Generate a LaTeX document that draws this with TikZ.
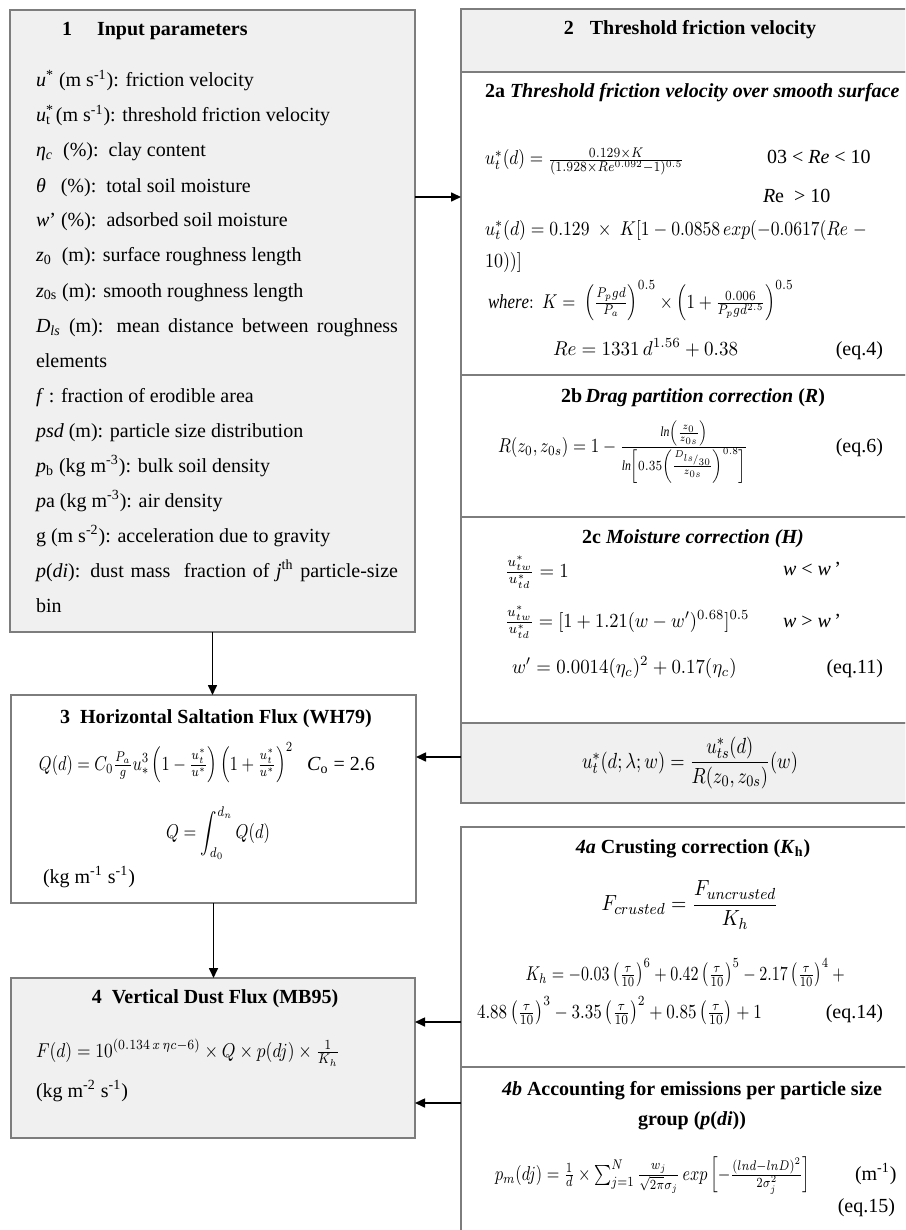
\documentclass[tikz,border=0pt]{standalone}
\usepackage{amsmath}
\usepackage{graphicx}
\usepackage{fontspec}
\setmainfont{Liberation Serif}
\usetikzlibrary{fit,arrows.meta}
\definecolor{boxgray}{RGB}{240,240,240}
\definecolor{linegray}{RGB}{125,125,125}
\newcommand{\hsqz}[2]{\scalebox{#1}[1]{#2}}
\tikzset{
  box/.style={draw=linegray, line width=0.8pt, inner sep=0pt, outer sep=0pt},
  gbox/.style={box, fill=boxgray},
  wbox/.style={box, fill=white},
  txt/.style={inner sep=0pt, outer sep=0pt, font=\fontsize{10pt}{12pt}\selectfont},
  eqn/.style={txt},
  bigeqn/.style={inner sep=0pt, outer sep=0pt, font=\fontsize{11pt}{14pt}\selectfont},
  arr/.style={draw=black, line width=0.8pt, -{Triangle[length=5pt,width=4.5pt]}},
}
\begin{document}
\begin{tikzpicture}[x=0.5pt,y=-0.5pt]
\useasboundingbox (0,0) rectangle (905,1230);
\clip (0,0) rectangle (905,1230);
\fill[white] (0,0) rectangle (905,1230);

% boxes
\node[gbox, fit={(10,10) (415,632)}] (b1) {};
\node[gbox, fit={(461,9) (915,72)}] (b2t) {};
\node[wbox, fit={(461,72) (915,375)}] (b2a) {};
\node[wbox, fit={(461,375) (915,517)}] (b2b) {};
\node[wbox, fit={(461,517) (915,723)}] (b2c) {};
\node[gbox, fit={(461,723) (915,803)}] (bc) {};
\node[wbox, fit={(461,827) (915,1067)}] (b4a) {};
\node[wbox, fit={(461,1067) (915,1240)}] (b4b) {};
\node[wbox, fit={(11,695) (416,903)}] (b3) {};
\node[gbox, fit={(11,978) (415,1138)}] (b4) {};

% box 1
\node[txt, anchor=base west] (h1) at (62,36) {\textbf{1}\hspace{12.5pt}\textbf{Input parameters}};
\foreach \txt [count=\i] in {
{\textit{u}\textsuperscript{*} (m s\textsuperscript{-1}): friction velocity},
{\textit{u}\rlap{\textsuperscript{*}}\textsubscript{t} (m s\textsuperscript{-1}): threshold friction velocity},
{\textit{η}\textsubscript{\textit{c}}\ \ (\%):\ \ clay content},
{\textit{θ}\ \ \ (\%):\ \ total soil moisture},
{\textit{w}’ (\%):\ \ adsorbed soil moisture},
{\textit{z}\textsubscript{0}\ \ (m): surface roughness length},
{\textit{z}\textsubscript{0s} (m): smooth roughness length},
{\makebox[181pt][s]{\textit{D}\textsubscript{\textit{ls}} (m): mean distance between roughness}},
{elements},
{\textit{f} : fraction of erodible area},
{\textit{psd} (m): particle size distribution},
{\textit{p}\textsubscript{b} (kg m\textsuperscript{-3}): bulk soil density},
{\textit{p}a (kg m\textsuperscript{-3}): air density},
{g (m s\textsuperscript{-2}): acceleration due to gravity},
{\makebox[181pt][s]{\textit{p}(\textit{di}): dust mass\ \ fraction of \textit{j}\textsuperscript{th} particle-size}},
{bin}}
{\node[txt, anchor=base west] (L\i) at (36,{87+35*(\i-1)}) {\txt};}

% box 2
\node[txt, anchor=base] (h2) at (690,35) {\textbf{2}\hspace{8pt}\textbf{Threshold friction velocity}};
\node[txt, anchor=base west] (h2a) at (485,98) {\textbf{2a \textit{Threshold friction velocity over smooth surface}}};
\node[eqn, anchor=base west] (e1) at (485,165) {\hsqz{0.86}{$u_t^*(d) = \frac{0.129\times K}{(1.928\times Re^{0.092}-1)^{0.5}}$}};
\node[txt, anchor=base west] (c1) at (767,164) {03 < \textit{Re} < 10};
\node[txt, anchor=base west] (c2) at (763,203) {\textit{R}e\ \ > 10};
\node[eqn, anchor=base west] (e2) at (485,235) {\hsqz{0.88}{$u_t^*(d) = 0.129\ \times\ K[1-0.0858\,exp(-0.0617(Re\;-$}};
\node[eqn, anchor=base west] (e2b) at (485,267) {\hsqz{0.9}{$10))]$}};
\node[eqn, anchor=base west] (e3) at (488,308) {\hsqz{0.84}{$\mathit{where}{:}\ \ K =\ \left(\frac{P_pgd}{P_a}\right)^{0.5}\times\left(1+\frac{0.006}{P_pgd^{2.5}}\right)^{0.5}$}};
\node[eqn, anchor=base west] (e4) at (553,355) {\hsqz{0.95}{$Re = 1331\,d^{1.56} + 0.38$}};
\node[txt, anchor=base east] (q4) at (883,355) {(eq.4)};

\node[txt, anchor=base] (h2b) at (693,402) {\textbf{2b\,\textit{Drag partition correction} (\textit{R})}};
\node[eqn, anchor=base west] (e5) at (498,452) {\hsqz{0.84}{$R(z_0,z_{0s}) = 1-\frac{\mathit{ln}\left(\frac{z_0}{z_{0s}}\right)}{\mathit{ln}\left[0.35\left(\frac{{}^{D_{ls}}\!/_{30}}{z_{0s}}\right)^{0.8}\right]}$}};
\node[txt, anchor=base east] (q6) at (883,452) {(eq.6)};

\node[txt, anchor=base] (h2c) at (693,543) {\textbf{2c \textit{Moisture correction (H)}}};
\node[eqn, anchor=base west] (e6) at (505,577) {\hsqz{0.94}{$\frac{u_{tw}^*}{u_{td}^*} = 1$}};
\node[txt, anchor=base west] (c3) at (783,575) {\textit{w} < \textit{w}\,’};
\node[eqn, anchor=base west] (e7) at (505,627) {\hsqz{0.92}{$\frac{u_{tw}^*}{u_{td}^*} = [1+1.21(w-w')^{0.68}]^{0.5}$}};
\node[txt, anchor=base west] (c4) at (783,627) {\textit{w} > \textit{w}\,’};
\node[eqn, anchor=base west] (e8) at (512,673) {\hsqz{0.94}{$w' = 0.0014(\eta_c)^2 + 0.17(\eta_c)$}};
\node[txt, anchor=base east] (q11) at (883,673) {(eq.11)};

\node[bigeqn] (ec) at (690,763) {\hsqz{0.84}{$u_t^*(d;\lambda;w) = \dfrac{u_{ts}^*(d)}{R(z_0,z_{0s})}(w)$}};

% 4a / 4b
\node[txt, anchor=base] (h4a) at (693,853) {\textbf{\textit{4a} Crusting correction (\textit{K}\textsubscript{h})}};
\node[bigeqn] (ef) at (690,905) {\hsqz{0.9}{$F_{crusted} = \dfrac{F_{uncrusted}}{K_h}$}};
\node[eqn, anchor=base] (ek1) at (687,980) {\hsqz{0.8}{$K_h = -0.03\left(\frac{\tau}{10}\right)^6 + 0.42\left(\frac{\tau}{10}\right)^5 - 2.17\left(\frac{\tau}{10}\right)^4 +{}$}};
\node[eqn, anchor=base west] (ek2) at (477,1018) {\hsqz{0.85}{$4.88\left(\frac{\tau}{10}\right)^3 - 3.35\left(\frac{\tau}{10}\right)^2 + 0.85\left(\frac{\tau}{10}\right) + 1$}};
\node[txt, anchor=base east] (q14) at (883,1018) {(eq.14)};

\node[txt, anchor=base] (h4b1) at (692,1095) {\textbf{\textit{4b} Accounting for emissions per particle size}};
\node[txt, anchor=base] (h4b2) at (692,1125) {\textbf{group (\textit{p}(\textit{di}))}};
\node[eqn, anchor=base west] (e9) at (495,1180) {\hsqz{0.81}{$p_m(dj) = \frac{1}{d}\times\sum_{j=1}^{N}\frac{w_j}{\sqrt{2\pi}\sigma_j}\,exp\left[-\frac{(lnd-lnD)^2}{2\sigma_j^2}\right]$}};
\node[txt, anchor=base west] (u9) at (855,1180) {(m\textsuperscript{-1})};
\node[txt, anchor=base east] (q15) at (895,1212) {(eq.15)};

% box 3
\node[txt, anchor=base] (h3) at (216,723) {\textbf{3\hspace{5pt}Horizontal Saltation Flux (WH79)}};
\node[eqn, anchor=base west] (e10) at (39,770) {\hsqz{0.81}{$Q(d) = C_0\frac{P_a}{g}u_*^3\left(1-\frac{u_t^*}{u^*}\right)\left(1+\frac{u_t^*}{u^*}\right)^2$}};
\node[txt, anchor=base west] (c5) at (307,770) {\textit{C}\textsubscript{o} = 2.6};
\node[eqn] (e11) at (218,833) {\hsqz{0.82}{$\displaystyle Q = \int_{d_0}^{d_n}Q(d)$}};
\node[txt, anchor=base west] (u3) at (43,883) {(kg m\textsuperscript{-1} s\textsuperscript{-1})};

% box 4
\node[txt, anchor=base] (h4) at (215,1003) {\textbf{4\hspace{5pt}Vertical Dust Flux (MB95)}};
\node[eqn, anchor=base west] (e12) at (36,1057) {\hsqz{0.87}{$F(d) = 10^{(0.134\,x\,\eta c-6)}\times Q\times p(dj)\times\frac{1}{K_h}$}};
\node[txt, anchor=base west] (u4) at (36,1097) {(kg m\textsuperscript{-2} s\textsuperscript{-1})};

% arrows
\draw[arr] (b1.east |- 0,197) -- (b2a.west |- 0,197);
\draw[arr] (b1.south) -- (b1.south |- b3.north);
\draw[arr] (bc.west |- 0,757) -- (b3.east |- 0,757);
\draw[arr] (b3.south) -- (b3.south |- b4.north);
\draw[arr] (b4a.west |- 0,1022) -- (b4.east |- 0,1022);
\draw[arr] (b4b.west |- 0,1103) -- (b4.east |- 0,1103);
\end{tikzpicture}
\end{document}
